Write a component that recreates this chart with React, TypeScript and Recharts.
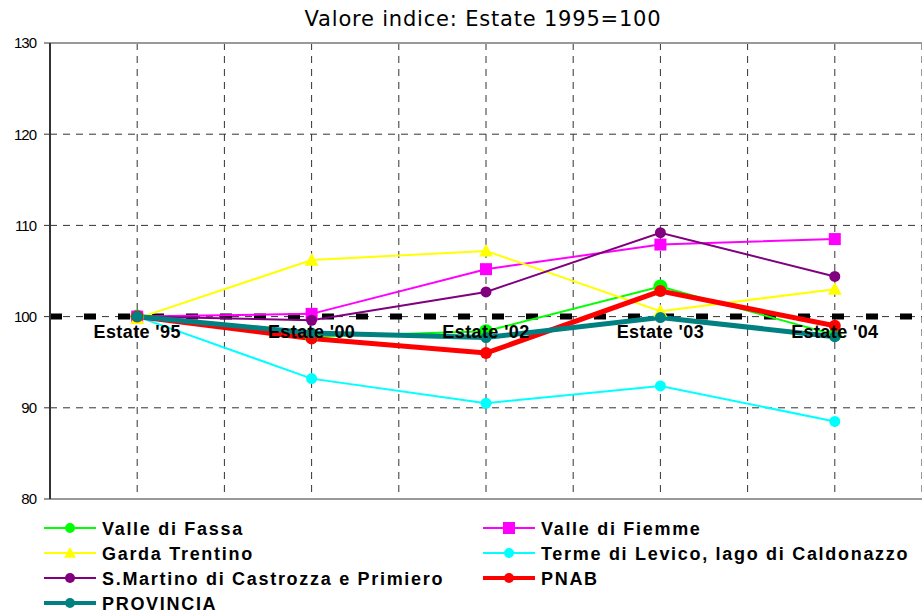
import { LineChart, Line, XAxis, YAxis, CartesianGrid, ReferenceLine, Legend } from 'recharts';

const categories = ["Estate '95", "Estate '00", "Estate '02", "Estate '03", "Estate '04"];
const valleDiFassa = [100, 97.8, 98.4, 103.3, 98.0];
const valleDiFiemme = [100, 100.3, 105.2, 107.9, 108.5];
const gardaTrentino = [99.8, 106.2, 107.2, 100.6, 103.0];
const termeDiLevico = [100, 93.2, 90.5, 92.4, 88.5];
const sMartino = [100, 99.6, 102.7, 109.2, 104.4];
const pnab = [100, 97.6, 96.0, 102.8, 99.0];
const provincia = [100, 98.2, 97.7, 99.9, 97.8];
const yTicks = [80, 90, 100, 110, 120, 130];
// half steps so the grid also gets lines between categories
const xGridTicks = [-0.5, 0, 0.5, 1, 1.5, 2, 2.5, 3, 3.5, 4, 4.5];

type Shape = 'circle' | 'square' | 'triangle';
type Serie = { key: string; name: string; color: string; width: number; shape: Shape; r: number; values: number[] };

const series: Serie[] = [
  { key: 'fassa', name: 'Valle di Fassa', color: '#00FF00', width: 2, shape: 'circle', r: 7, values: valleDiFassa },
  { key: 'fiemme', name: 'Valle di Fiemme', color: '#FF00FF', width: 2, shape: 'square', r: 6, values: valleDiFiemme },
  { key: 'garda', name: 'Garda Trentino', color: '#FFFF00', width: 2, shape: 'triangle', r: 7, values: gardaTrentino },
  { key: 'levico', name: 'Terme di Levico, lago di Caldonazzo', color: '#00FFFF', width: 2, shape: 'circle', r: 5.5, values: termeDiLevico },
  { key: 'martino', name: 'S.Martino di Castrozza e Primiero', color: '#800080', width: 2, shape: 'circle', r: 5.5, values: sMartino },
  { key: 'pnab', name: 'PNAB', color: '#FF0000', width: 5, shape: 'circle', r: 6, values: pnab },
  { key: 'provincia', name: 'PROVINCIA', color: '#008080', width: 5, shape: 'circle', r: 5.5, values: provincia },
];

const data = categories.map((c, i) => {
  const row: Record<string, number | string> = { i, name: c };
  series.forEach((s) => (row[s.key] = s.values[i]));
  return row;
});

const boldFont = '"Liberation Sans", Arial, sans-serif';

function Marker({ cx, cy, s }: { cx: number; cy: number; s: Serie }) {
  if (cx == null || cy == null) return null;
  if (s.shape === 'square')
    return <rect x={cx - s.r} y={cy - s.r} width={s.r * 2} height={s.r * 2} fill={s.color} />;
  if (s.shape === 'triangle')
    return <polygon points={`${cx},${cy - s.r} ${cx + s.r},${cy + s.r * 0.8} ${cx - s.r},${cy + s.r * 0.8}`} fill={s.color} />;
  return <circle cx={cx} cy={cy} r={s.r} fill={s.color} />;
}

// category labels sit just under the 100 line, like in the original
function renderCatTick(props: any) {
  const { x, y, payload, index } = props;
  const v = Number(payload.value);
  if (!Number.isInteger(v)) return <g key={`t-${index}`} />;
  return (
    <text key={`t-${index}`} x={x} y={y - 161} textAnchor="middle" fontFamily={boldFont} fontWeight="bold" fontSize={18} letterSpacing={0.4} fill="#000">
      {categories[v]}
    </text>
  );
}

// legend laid out like the original: two columns, four rows
const legendRows = [
  ['fassa', 'fiemme'],
  ['garda', 'levico'],
  ['martino', 'pnab'],
  ['provincia'],
];

function ChartLegend() {
  const cols = [44, 483];
  return (
    <svg width={922} height={100}>
      {legendRows.map((row, ri) =>
        row.map((k, ci) => {
          const s = series.find((x) => x.key === k)!;
          const x0 = cols[ci];
          const cy = 13 + ri * 25;
          return (
            <g key={k}>
              <line x1={x0} x2={x0 + 52} y1={cy} y2={cy} stroke={s.color} strokeWidth={s.width === 2 ? 2 : 4} />
              <Marker cx={x0 + 26} cy={cy} s={{ ...s, r: s.shape === 'circle' ? 5 : 6 }} />
              <text x={x0 + 58} y={cy + 6.5} fontFamily={boldFont} fontWeight="bold" fontSize={18} letterSpacing={1.7} fill="#000">
                {s.name}
              </text>
            </g>
          );
        })
      )}
    </svg>
  );
}

export default function App() {
  return (
    <div style={{ position: 'absolute', left: 0, top: 0, width: 922, height: 616, background: '#fff' }}>
      <div
        style={{
          position: 'absolute', left: 0, top: 7, width: 966, textAlign: 'center',
          fontFamily: '"DejaVu Sans", Verdana, sans-serif', fontSize: 21, letterSpacing: 0.8, color: '#000',
        }}
      >
        Valore indice: Estate 1995=100
      </div>
      <LineChart width={922} height={616} data={data} margin={{ top: 43, right: 0, bottom: 87, left: 0 }}>
        <CartesianGrid stroke="#333" strokeDasharray="7 6" />
        <XAxis
          dataKey="i"
          type="number"
          domain={[-0.5, 4.5]}
          ticks={xGridTicks}
          axisLine={false}
          tickLine={false}
          tickSize={0}
          tickMargin={0}
          tick={renderCatTick}
          height={30}
          interval={0}
        />
        <YAxis
          domain={[80, 130]}
          ticks={yTicks}
          width={50}
          axisLine={{ stroke: '#333', strokeWidth: 2 }}
          tickLine={{ stroke: '#333' }}
          tickSize={6}
          tickMargin={8}
          tick={{ fontFamily: boldFont, fontSize: 15, letterSpacing: -1, fill: '#000' }}
        />
        <ReferenceLine y={130} stroke="#999" strokeWidth={2} />
        <ReferenceLine y={80} stroke="#999" strokeWidth={2} />
        <ReferenceLine y={100} stroke="#000" strokeWidth={6} strokeDasharray="12 22" />
        {series.map((s) => (
          <Line
            key={s.key}
            dataKey={s.key}
            name={s.name}
            stroke={s.color}
            strokeWidth={s.width}
            isAnimationActive={false}
            dot={(p: any) => <Marker key={`${s.key}-${p.index}`} cx={p.cx} cy={p.cy} s={s} />}
            activeDot={false}
          />
        ))}
        <Legend
          layout="horizontal"
          verticalAlign="middle"
          wrapperStyle={{ left: 0, top: 515, width: 922, height: 100 }}
          content={() => <ChartLegend />}
        />
      </LineChart>
    </div>
  );
}
